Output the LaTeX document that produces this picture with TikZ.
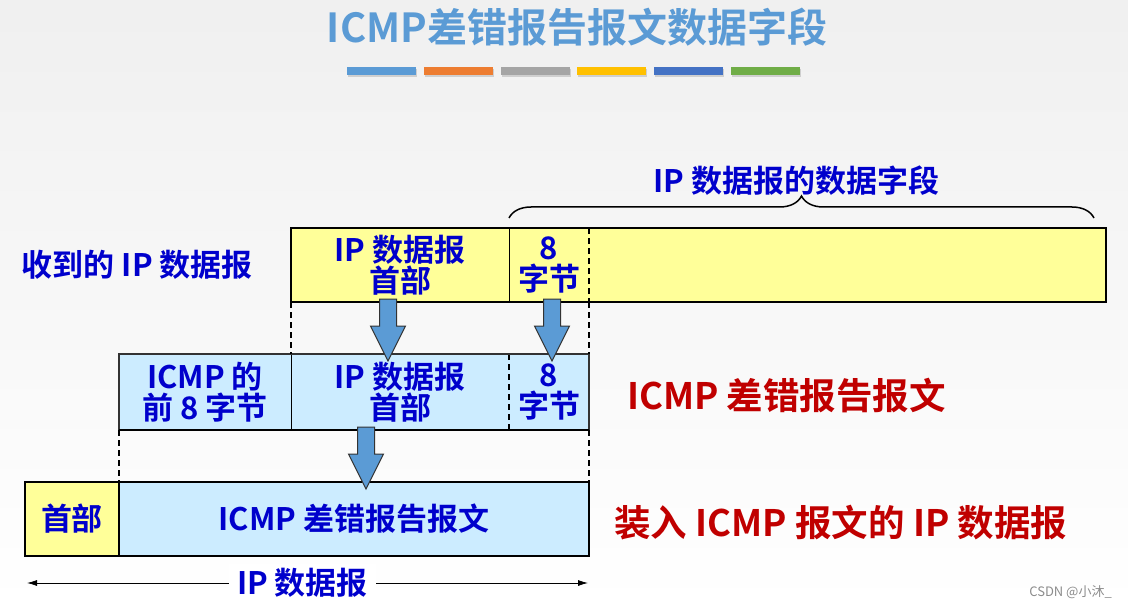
\documentclass[tikz,border=0pt]{standalone}
\usepackage{fontspec}
\setmainfont{Noto Sans CJK SC}[BoldFont={Noto Sans CJK SC Bold}]
\usetikzlibrary{arrows.meta,decorations.pathreplacing,positioning,shadows,calc}

\definecolor{ttlblue}{HTML}{5B9BD5}
\definecolor{barorange}{HTML}{ED7D31}
\definecolor{bargray}{HTML}{A5A5A5}
\definecolor{baryellow}{HTML}{FFC000}
\definecolor{bardarkblue}{HTML}{4472C4}
\definecolor{bargreen}{HTML}{70AD47}
\definecolor{txtblue}{HTML}{0000CC}
\definecolor{txtred}{HTML}{C00000}
\definecolor{cellyellow}{HTML}{FFFF99}
\definecolor{cellblue}{HTML}{CCECFF}

\newcommand{\bodyfont}{\fontsize{31}{31}\selectfont\bfseries}
\newcommand{\redfont}{\fontsize{36.5}{36.5}\selectfont\bfseries}
\newcommand{\titlefont}{\fontsize{40}{40}\selectfont\bfseries}

\tikzset{
  cell/.style={minimum height=74, inner sep=0, outer sep=0, align=center, text=txtblue, font=\bodyfont},
  ycell/.style={cell, fill=cellyellow},
  bcell/.style={cell, fill=cellblue},
  frame/.style={line width=2.5, black},
  divider/.style={line width=1, black},
  guide/.style={line width=1.2, black, dash pattern=on 6 off 4},
  lbl/.style={text=txtblue, font=\bodyfont, inner sep=0},
  redlbl/.style={text=txtred, font=\redfont, inner sep=0},
  blkarrow/.pic={
    \draw[line width=1, black!80, fill=ttlblue, line join=miter]
      (-8.5,0) -- (8.5,0) -- (8.5,27) -- (17.5,27) -- (0,62) -- (-17.5,27) -- (-8.5,27) -- cycle;
  }
}

\begin{document}
\begin{tikzpicture}[x=1pt, y=-1pt]
  % background
  \shade[top color=black!6, bottom color=white] (0,0) rectangle (1128,607);
  \useasboundingbox (0,0) rectangle (1128,607);

  % title and colour bars
  \node[font=\titlefont, text=ttlblue, inner sep=0] (ttl) at (577,27) {ICMP差错报告报文数据字段};
  \foreach \c [count=\i from 0] in {ttlblue,barorange,bargray,baryellow,bardarkblue,bargreen}
    \fill[\c, drop shadow={shadow xshift=1pt, shadow yshift=-2pt, opacity=0.3}] (347+76.8*\i,67) rectangle ++(69,8);

  % received IP datagram
  \node[ycell, minimum width=218, anchor=north west] (rhdr) at (291,228) {IP 数据报\\首部};
  \node[ycell, minimum width=80, right=0 of rhdr] (r8) {8\\字节};
  \node[ycell, minimum width=517, right=0 of r8] (rdata) {};
  \draw[divider] (rhdr.north east) -- (rhdr.south east);
  \draw[guide] (r8.north east) -- (r8.south east);
  \draw[frame] (rhdr.north west) rectangle (rdata.south east);
  \node[lbl, left=38 of rhdr] (rlbl) {收到的 IP 数据报};

  % brace over the data field
  \coordinate (brL) at ($(r8.north west)+(0,-10)$);
  \coordinate (brR) at ($(rdata.north east)+(-12,-10)$);
  \draw[line width=1.5, decorate, decoration={brace, amplitude=22}] (brL) -- (brR);
  \node[lbl] (brlbl) at ($(brL)!0.5!(brR)+(-5,-37)$) {IP 数据报的数据字段};

  % ICMP error message
  \node[bcell, minimum height=76, minimum width=172, anchor=north west] (micmp) at (119,354) {ICMP 的\\前 8 字节};
  \node[bcell, minimum height=76, minimum width=218, right=0 of micmp] (mhdr) {IP 数据报\\首部};
  \node[bcell, minimum height=76, minimum width=80, right=0 of mhdr] (m8) {8\\字节};
  \draw[divider] (micmp.north east) -- (micmp.south east);
  \draw[guide] (mhdr.north east) -- (mhdr.south east);
  \draw[line width=2, black!80] (micmp.north west) rectangle (m8.south east);
  \draw[frame] (micmp.south west) -- (m8.south east);
  \node[redlbl, right=38 of m8, yshift=-4] (mlbl) {ICMP 差错报告报文};

  % IP datagram carrying the ICMP message
  \node[ycell, minimum width=94, anchor=north west] (bhdr) at (25,482) {首部};
  \node[bcell, minimum width=470, right=0 of bhdr] (bmsg) {ICMP 差错报告报文};
  \draw[frame] (bhdr.north west) rectangle (bmsg.south east);
  \draw[frame] (bhdr.north east) -- (bhdr.south east);
  \node[redlbl, right=25 of bmsg, yshift=-4] (blbl) {装入 ICMP 报文的 IP 数据报};

  % dashed guides
  \draw[guide] (rhdr.south west) -- (mhdr.north west);
  \draw[guide] (r8.south east) -- (m8.north east);
  \draw[guide] (micmp.south west) -- (bmsg.north west);
  \draw[guide] (m8.south east) -- (bmsg.north east);

  % block arrows
  \pic at ($(rhdr.south)+(-12,-3)$) {blkarrow};
  \pic at ($(r8.south)+(3,-3)$) {blkarrow};
  \pic at ($(mhdr.south)+(-34,-3)$) {blkarrow};

  % length of the whole datagram
  \coordinate (dimL) at ($(bhdr.south west)+(2,27)$);
  \coordinate (dimR) at ($(bmsg.south east)+(-1,27)$);
  \draw[line width=0.8, {Latex[length=10pt,width=6pt]}-{Latex[length=10pt,width=6pt]}] (dimL) -- node[lbl, fill=white, inner xsep=8, inner ysep=4, xshift=-5] (dimlbl) {IP 数据报} (dimR);

  \node[anchor=east, text=black!45, font=\fontsize{13}{13}\selectfont, inner sep=0] (wm) at (1112,592) {CSDN @小沐\_};
\end{tikzpicture}
\end{document}
